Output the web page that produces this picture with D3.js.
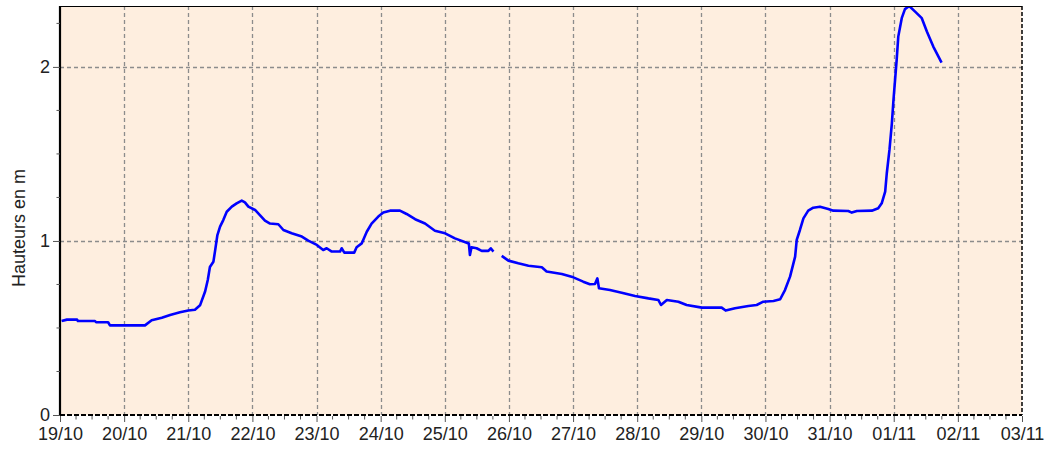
<!DOCTYPE html>
<html>
<head>
<meta charset="utf-8">
<script src="https://cdn.jsdelivr.net/npm/d3@7"></script>
<style>
  body { margin: 0; background: #fff; }
  svg { display: block; font-family: "Liberation Sans", Arial, sans-serif; }
</style>
</head>
<body>
<svg id="chart" width="1045" height="450"></svg>
<script>
// hours after 19/10 00:00, and water level in metres (null = gap in the record)
const hours = [
  0.6, 2.6, 6.4, 6.7, 13.1, 13.5, 18.0, 18.7, 31.8, 34.3, 38.1, 41.2, 44.9, 48.0, 50.5,
  52.4, 54.3, 55.3, 56.1, 57.4, 58.0, 58.9, 59.9, 61.1, 62.4, 64.3, 66.1, 68.0, 69.2, 70.5,
  73.0, 74.8, 76.7, 78.6, 81.7, 83.6, 86.7, 90.5, 92.9, 96.1, 98.5, 99.8, 101.7, 104.8, 105.4,
  106.4, 110.1, 111.0, 112.9, 114.8, 116.6, 119.1, 121.0, 123.5, 127.2, 129.7, 132.9, 136.6, 140.3, 144.1,
  147.8, 152.2, 153.0, 153.4, 154.0, 155.9, 157.8, 160.3, 161.2, 162.2, 163.8, 165.3, 167.8, 171.5, 175.3,
  180.3, 182.1, 187.8, 192.1, 195.8, 198.3, 200.2, 201.1, 201.7, 205.8, 210.2, 215.2, 220.2, 223.9, 224.9,
  227.1, 231.4, 234.5, 240.2, 247.6, 249.1, 252.6, 257.6, 260.7, 263.2, 267.0, 269.5, 271.3, 273.2, 275.1,
  275.7, 276.9, 278.2, 280.0, 281.9, 284.4, 287.5, 289.4, 295.0, 296.3, 298.2, 303.8, 306.2, 307.5, 308.8,
  309.4, 310.4, 311.3, 311.9, 312.5, 313.1, 313.7, 315.0, 316.2, 317.8, 320.0, 322.5, 324.4, 326.8, 329.9
];
const levels = [
  0.54, 0.548, 0.548, 0.54, 0.54, 0.533, 0.533, 0.515, 0.515, 0.544, 0.559, 0.575, 0.59, 0.60, 0.605,
  0.63, 0.71, 0.776, 0.85, 0.88, 0.94, 1.034, 1.082, 1.12, 1.168, 1.197, 1.216, 1.232, 1.222, 1.197,
  1.178, 1.149, 1.117, 1.10, 1.096, 1.063, 1.044, 1.025, 1.002, 0.977, 0.948, 0.958, 0.939, 0.939, 0.958,
  0.933, 0.933, 0.964, 0.986, 1.053, 1.10, 1.14, 1.163, 1.174, 1.174, 1.155, 1.125, 1.10, 1.059, 1.044,
  1.015, 0.99, 0.985, 0.92, 0.964, 0.958, 0.943, 0.943, 0.958, 0.939, null, 0.914, 0.887, 0.872, 0.858,
  0.849, 0.824, 0.81, 0.791, 0.766, 0.751, 0.753, 0.785, 0.728, 0.718, 0.703, 0.684, 0.67, 0.661, 0.632,
  0.661, 0.651, 0.632, 0.617, 0.617, 0.60, 0.613, 0.626, 0.632, 0.651, 0.655, 0.665, 0.718, 0.795, 0.91,
  1.006, 1.063, 1.13, 1.174, 1.191, 1.197, 1.184, 1.174, 1.172, 1.163, 1.172, 1.174, 1.188, 1.216, 1.283,
  1.389, 1.523, 1.676, 1.81, 1.925, 2.04, 2.174, 2.28, 2.332, 2.35, 2.318, 2.28, 2.203, 2.117, 2.025
];
const dayLabels = ["19/10", "20/10", "21/10", "22/10", "23/10", "24/10", "25/10", "26/10",
  "27/10", "28/10", "29/10", "30/10", "31/10", "01/11", "02/11", "03/11"];
const yMajor = [0, 1, 2];
const yMinor = [0.25, 0.5, 0.75, 1.25, 1.5, 1.75, 2.25];
const yTitle = "Hauteurs en m";

const start = new Date(Date.UTC(2000, 9, 19));
const end = new Date(Date.UTC(2000, 10, 3));
const margin = { left: 60, top: 6, right: 23, bottom: 35 };
const W = 1045, H = 450;

const svg = d3.select("#chart");
const x = d3.scaleUtc().domain([start, end]).range([margin.left, W - margin.right]);
const y = d3.scaleLinear().domain([0, 2.35]).range([H - margin.bottom, margin.top]);

const x0 = x.range()[0], x1 = x.range()[1];
const yb = y.range()[0], yt = y.range()[1];

const data = hours.map((h, i) => ({ t: d3.utcMinute.offset(start, Math.round(h * 60)), v: levels[i] }));
const days = d3.utcDay.range(start, d3.utcDay.offset(end, 1));

svg.append("rect").attr("x", x0).attr("y", yt)
  .attr("width", x1 - x0).attr("height", yb - yt).attr("fill", "#feeedf");

// grid
const grid = svg.append("g").attr("stroke", "#8c8c8c").attr("stroke-width", 1.3)
  .attr("stroke-dasharray", "4,3");
grid.selectAll(".vg").data(days.slice(1, -1)).enter().append("line")
  .attr("x1", d => Math.round(x(d)) + 0.5).attr("x2", d => Math.round(x(d)) + 0.5)
  .attr("y1", yt).attr("y2", yb);
grid.selectAll(".hg").data(yMajor.filter(v => v > 0)).enter().append("line")
  .attr("x1", x0).attr("x2", x1)
  .attr("y1", d => Math.round(y(d)) + 0.5).attr("y2", d => Math.round(y(d)) + 0.5);

// series
svg.append("clipPath").attr("id", "clip").append("rect")
  .attr("x", x0).attr("y", yt).attr("width", x1 - x0).attr("height", yb - yt);
svg.append("path").datum(data)
  .attr("clip-path", "url(#clip)")
  .attr("fill", "none").attr("stroke", "#0000ff").attr("stroke-width", 2.6)
  .attr("stroke-linejoin", "round")
  .attr("d", d3.line().defined(d => d.v !== null).x(d => x(d.t)).y(d => y(d.v)));

// frame
svg.append("line").attr("x1", x0).attr("x2", x1).attr("y1", yt + 0.5).attr("y2", yt + 0.5)
  .attr("stroke", "#000").attr("stroke-width", 1.2);
svg.append("line").attr("x1", x1).attr("x2", x1).attr("y1", yt).attr("y2", yb)
  .attr("stroke", "#000").attr("stroke-width", 1.5).attr("stroke-dasharray", "4,2");
svg.append("line").attr("x1", x0).attr("x2", x1).attr("y1", yb).attr("y2", yb)
  .attr("stroke", "#000").attr("stroke-width", 2).attr("stroke-dasharray", "5,2");
svg.append("line").attr("x1", x0).attr("x2", x0).attr("y1", yt).attr("y2", yb + 1)
  .attr("stroke", "#000").attr("stroke-width", 2.2);

// x axis
const xAxis = d3.axisBottom(x).tickValues(days).tickSize(6).tickPadding(5)
  .tickFormat((d, i) => dayLabels[i]);
const gx = svg.append("g").attr("transform", `translate(0,${yb + 1})`).call(xAxis);
gx.select(".domain").remove();
gx.selectAll(".tick line").attr("stroke", "#555");
gx.selectAll("text").attr("font-size", 18).attr("fill", "#222");
svg.append("g").attr("transform", `translate(0,${yb + 1})`)
  .selectAll("line").data(d3.utcHour.every(6).range(start, end).filter(d => d.getUTCHours() !== 0))
  .enter().append("line")
  .attr("x1", d => x(d)).attr("x2", d => x(d)).attr("y1", 0).attr("y2", 3.5)
  .attr("stroke", "#555");

// y axis
const yAxis = d3.axisLeft(y).tickValues(yMajor).tickSize(7).tickPadding(3).tickFormat(d3.format("d"));
const gy = svg.append("g").attr("transform", `translate(${x0},0)`).call(yAxis);
gy.select(".domain").remove();
gy.selectAll(".tick line").attr("stroke", "#555");
gy.selectAll("text").attr("font-size", 18).attr("fill", "#222");
svg.append("g").selectAll("line").data(yMinor).enter().append("line")
  .attr("x1", x0 - 3.5).attr("x2", x0).attr("y1", d => y(d)).attr("y2", d => y(d))
  .attr("stroke", "#555");

svg.append("text").attr("transform", "translate(25,228) rotate(-90)")
  .attr("text-anchor", "middle").attr("font-size", 18).attr("fill", "#222").text(yTitle);
</script>
</body>
</html>
